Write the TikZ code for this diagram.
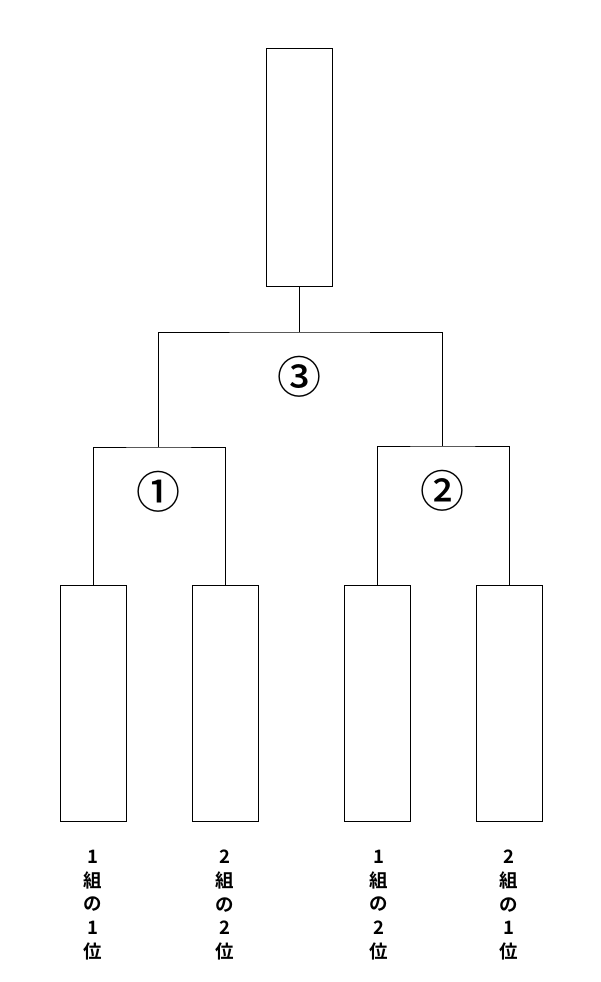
\documentclass[tikz,border=0pt]{standalone}
\usepackage{fontspec}
\newfontfamily\jpfont{Noto Sans CJK JP Medium}
\newfontfamily\jpbold{Noto Sans CJK JP Bold}
\begin{document}
\begin{tikzpicture}[x=1pt,y=-1pt,
  box/.style={draw,line width=0.9pt,minimum width=66pt,inner sep=0pt},
  bigbox/.style={box,minimum height=238pt},
  smallbox/.style={box,minimum height=236pt},
  conn/.style={line width=0.9pt},
  circ/.style={inner sep=0pt,font=\jpfont\fontsize{44}{44}\selectfont},
  lbl/.style={inner sep=0pt,align=center,font=\jpbold\fontsize{18.5}{23.7}\selectfont}]
\useasboundingbox (0,0) rectangle (600,982);
\fill[white] (0,0) rectangle (600,982);
\node[bigbox] (top) at (299,167) {};
\node[smallbox] (b1) at (93.5,703) {};
\node[smallbox] (b2) at (225,703) {};
\node[smallbox] (b3) at (377,703) {};
\node[smallbox] (b4) at (509,703) {};
\coordinate (m1) at (158,447);
\coordinate (m2) at (442,446);
\coordinate (m3) at (299,332);
\draw[conn] (b1.north) |- (m1) -| (b2.north);
\draw[conn] (b3.north) |- (m2) -| (b4.north);
\draw[conn] (m1) |- (m3) -| (m2);
\draw[conn] (m3) -- (top.south);
\node[circ] (c3) at (299,377) {③};
\node[circ] (c1) at (158,492) {①};
\node[circ] (c2) at (442,491) {②};
\node[lbl] (l1) at (93,905) {1\\組\\の\\1\\位};
\node[lbl] (l2) at (225,905) {2\\組\\の\\2\\位};
\node[lbl] (l3) at (379,905) {1\\組\\の\\2\\位};
\node[lbl] (l4) at (509,905) {2\\組\\の\\1\\位};
\end{tikzpicture}
\end{document}
